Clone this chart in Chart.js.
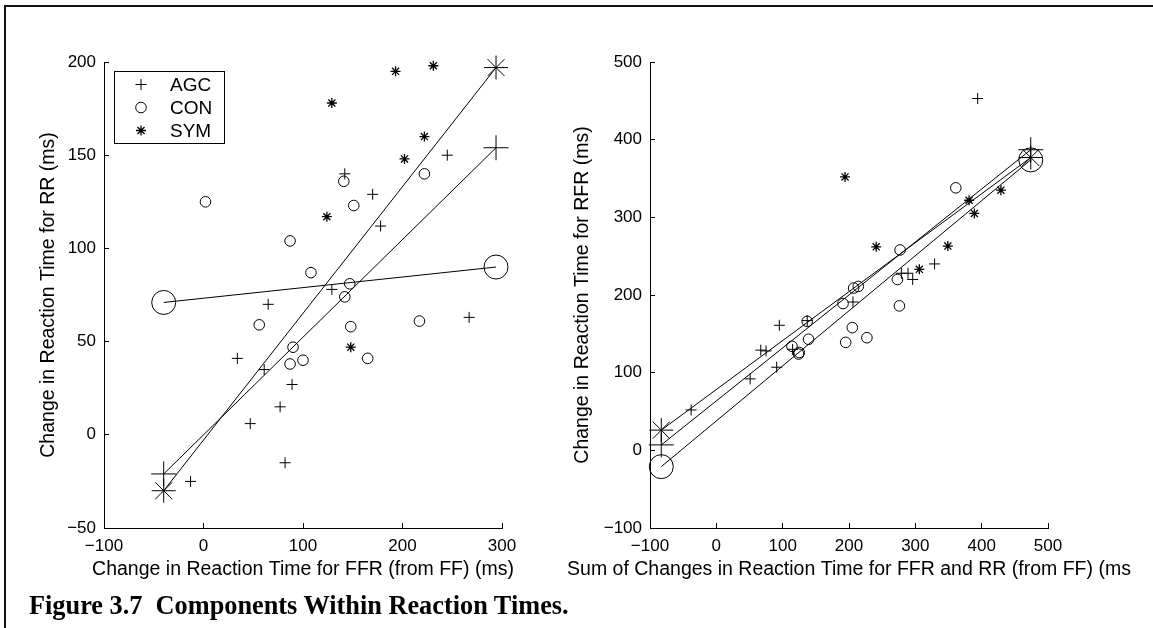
<!DOCTYPE html>
<html>
<head>
<meta charset="utf-8">
<title>Figure 3.7 Components Within Reaction Times</title>
<script src="https://cdn.jsdelivr.net/npm/chart.js"></script>
<style>
  body { margin: 0; background: #fff; }
  #wrap { position: relative; width: 1153px; height: 628px; overflow: hidden; background: #fff; }
  #frame { position: absolute; left: 4px; top: 5px; width: 1160px; height: 640px;
           border-top: 2px solid #111; border-left: 2px solid #111; }
  canvas { position: absolute; top: 0; }
  #c1 { left: 0; }
  #c2 { left: 560px; }
  #caption { position: absolute; left: 29px; top: 591px; white-space: pre; line-height: 1;
             font: bold 26.3px "Liberation Serif", "Times New Roman", serif; color: #000; }
</style>
</head>
<body>
<div id="wrap">
  <div id="frame"></div>
  <canvas id="c1" width="560" height="628"></canvas>
  <canvas id="c2" width="593" height="628"></canvas>
  <div id="caption">Figure 3.7  Components Within Reaction Times.</div>
</div>
<script>
// =====================
// Data (ms)
// =====================
const groups = ["AGC", "CON", "SYM"];

// left panel: x = change for FFR, y = change for RR
const agcFfr = [142, 170, 245, 178, 129, 65, 267, 34, 61, 89, 77, 47, 82, -13];
const agcRr  = [140, 129, 150, 112, 78, 70, 63, 41, 35, 27, 15, 6, -15, -25];
const conFfr = [2, 87, 108, 141, 151, 222, 147, 142, 56, 148, 217, 90, 100, 87, 165];
const conRr  = [125, 104, 87, 136, 123, 140, 81, 74, 59, 58, 61, 47, 40, 38, 41];
const symFfr = [129, 193, 231, 222, 202, 124, 148];
const symRr  = [178, 195, 198, 160, 148, 117, 47];

// right panel: x = FFR + RR, y = change for RFR
const agcSum = [394, 95, 67, 75, 91, 51, -38, 329, 279, 289, 296, 206, 137, 115];
const agcRfr = [453, 161, 129, 128, 107, 92, 52, 240, 228, 228, 220, 191, 167, 130];
const conSum = [361, 277, 273, 207, 214, 191, 276, 137, 205, 227, 195, 139, 114, 124, 125];
const conRfr = [338, 258, 220, 209, 211, 189, 186, 166, 158, 145, 139, 143, 134, 124, 126];
const symSum = [194, 381, 389, 429, 241, 349, 306];
const symRfr = [352, 322, 305, 335, 262, 263, 233];

// fitted lines (end points)
const fitLeftX   = [-40, 294];
const fitLeftAgc = [-21, 154];
const fitLeftCon = [71, 90];
const fitLeftSym = [-30, 197];
const fitRightX   = [-83, 474];
const fitRightAgc = [7, 387];
const fitRightCon = [-21, 374];
const fitRightSym = [26, 377];

// ticks
const leftXTicks  = [-100, 0, 100, 200, 300];
const leftYTicks  = [-50, 0, 50, 100, 150, 200];
const rightXTicks = [-100, 0, 100, 200, 300, 400, 500];
const rightYTicks = [-100, 0, 100, 200, 300, 400, 500];

// =====================
// Styles
// =====================
const FONT = '"Liberation Sans", Arial, Helvetica, sans-serif';
const styles = ["cross", "circle", "star"];
const smallR = [5.5, 5.3, 5];
const smallW = [1, 1, 1.3];
const bigR = [12.5, 12, 12];

Chart.defaults.color = "#000";
Chart.defaults.font.family = FONT;

function pts(xs, ys) {
    return xs.map((x, i) => ({ x: x, y: ys[i] }));
}

function scatterSet(i, xs, ys) {
    return {
        label: groups[i],
        data: pts(xs, ys),
        showLine: false,
        pointStyle: styles[i],
        pointRadius: smallR[i],
        pointHoverRadius: smallR[i],
        pointBorderColor: "#000",
        pointBackgroundColor: "rgba(0,0,0,0)",
        pointBorderWidth: smallW[i],
        clip: false
    };
}

function fitSet(i, xs, ys) {
    return {
        label: groups[i] + " fit",
        data: pts(xs, ys),
        showLine: true,
        borderColor: "#000",
        borderWidth: 1,
        pointStyle: styles[i],
        pointRadius: bigR[i],
        pointHoverRadius: bigR[i],
        pointBorderColor: "#000",
        pointBackgroundColor: "rgba(0,0,0,0)",
        pointBorderWidth: 1,
        clip: false
    };
}

function drawMarker(ctx, style, x, y, r) {
    ctx.beginPath();
    if (style === "circle") {
        ctx.arc(x, y, r, 0, Math.PI * 2);
    } else {
        ctx.moveTo(x - r, y); ctx.lineTo(x + r, y);
        ctx.moveTo(x, y - r); ctx.lineTo(x, y + r);
        if (style === "star") {
            const d = r * Math.SQRT1_2;
            ctx.moveTo(x - d, y - d); ctx.lineTo(x + d, y + d);
            ctx.moveTo(x - d, y + d); ctx.lineTo(x + d, y - d);
        }
    }
    ctx.stroke();
}

// boxed legend in the top left corner of the plot, MATLAB style
const boxLegend = {
    id: "boxLegend",
    afterDraw(chart) {
        const ctx = chart.ctx;
        const a = chart.chartArea;
        const x0 = Math.round(a.left + 10), y0 = Math.round(a.top + 9);
        ctx.save();
        ctx.fillStyle = "#fff";
        ctx.fillRect(x0, y0, 110, 72);
        ctx.strokeStyle = "#000";
        ctx.lineWidth = 1;
        ctx.strokeRect(x0 + 0.5, y0 + 0.5, 110, 72);
        ctx.font = "19px " + FONT;
        ctx.textBaseline = "middle";
        ctx.fillStyle = "#000";
        groups.forEach((g, i) => {
            const y = y0 + 13.5 + i * 23;
            ctx.lineWidth = smallW[i];
            drawMarker(ctx, styles[i], x0 + 27, y, smallR[i]);
            ctx.fillText(g, x0 + 56, y + 1);
        });
        ctx.restore();
    }
};

// x axis title drawn without the width squeeze Chart.js applies
function xTitle(text) {
    return {
        id: "xTitle",
        afterDraw(chart) {
            const ctx = chart.ctx;
            const a = chart.chartArea;
            ctx.save();
            ctx.font = "19.5px " + FONT;
            ctx.fillStyle = "#000";
            ctx.textAlign = "center";
            ctx.textBaseline = "middle";
            ctx.fillText(text, (a.left + a.right) / 2, 570);
            ctx.restore();
        }
    };
}

function minus(v) {
    return String(v).replace("-", "\u2212");
}

function axes(xTicks, yTicks, yTitle, yWidth, yTitlePad) {
    const grid = { drawOnChartArea: false, drawTicks: true, tickLength: -5, color: "#000", lineWidth: 1 };
    const border = { display: true, color: "#000", width: 1 };
    return {
        x: {
            type: "linear",
            min: xTicks[0],
            max: xTicks[xTicks.length - 1],
            afterBuildTicks: s => { s.ticks = xTicks.map(v => ({ value: v })); },
            afterFit: s => { s.height = 100; s.paddingLeft = 0; s.paddingRight = 0; },
            grid: grid,
            border: border,
            ticks: { padding: 13, font: { size: 17 }, maxRotation: 0, callback: minus }
        },
        y: {
            type: "linear",
            min: yTicks[0],
            max: yTicks[yTicks.length - 1],
            afterBuildTicks: s => { s.ticks = yTicks.map(v => ({ value: v })); },
            afterFit: s => { s.width = yWidth; s.paddingTop = 0; s.paddingBottom = 0; },
            grid: grid,
            border: border,
            ticks: { padding: 13, font: { size: 17 }, callback: minus },
            title: { display: true, text: yTitle, font: { size: 19.5 }, padding: { top: yTitlePad, bottom: 0 } }
        }
    };
}

function makeChart(id, datasets, scales, pad, plugins) {
    return new Chart(document.getElementById(id), {
        type: "scatter",
        data: { datasets: datasets },
        options: {
            responsive: false,
            animation: false,
            devicePixelRatio: 1,
            layout: { padding: pad },
            plugins: { legend: { display: false }, tooltip: { enabled: false } },
            events: [],
            scales: scales
        },
        plugins: plugins
    });
}

// =====================
// Left panel
// =====================
makeChart("c1", [
    scatterSet(0, agcFfr, agcRr),
    scatterSet(1, conFfr, conRr),
    scatterSet(2, symFfr, symRr),
    fitSet(0, fitLeftX, fitLeftAgc),
    fitSet(1, fitLeftX, fitLeftCon),
    fitSet(2, fitLeftX, fitLeftSym)
], axes(leftXTicks, leftYTicks, "Change in Reaction Time for RR (ms)", 104, 37),
   { left: 0, right: 58, top: 62, bottom: 0 },
   [boxLegend, xTitle("Change in Reaction Time for FFR (from FF) (ms)")]);

// =====================
// Right panel
// =====================
makeChart("c2", [
    scatterSet(0, agcSum, agcRfr),
    scatterSet(1, conSum, conRfr),
    scatterSet(2, symSum, symRfr),
    fitSet(0, fitRightX, fitRightAgc),
    fitSet(1, fitRightX, fitRightCon),
    fitSet(2, fitRightX, fitRightSym)
], axes(rightXTicks, rightYTicks, "Change in Reaction Time for RFR (ms)", 90, 11),
   { left: 0, right: 105, top: 62, bottom: 0 },
   [xTitle("Sum of Changes in Reaction Time for FFR and RR (from FF) (ms")]);
</script>
</body>
</html>
